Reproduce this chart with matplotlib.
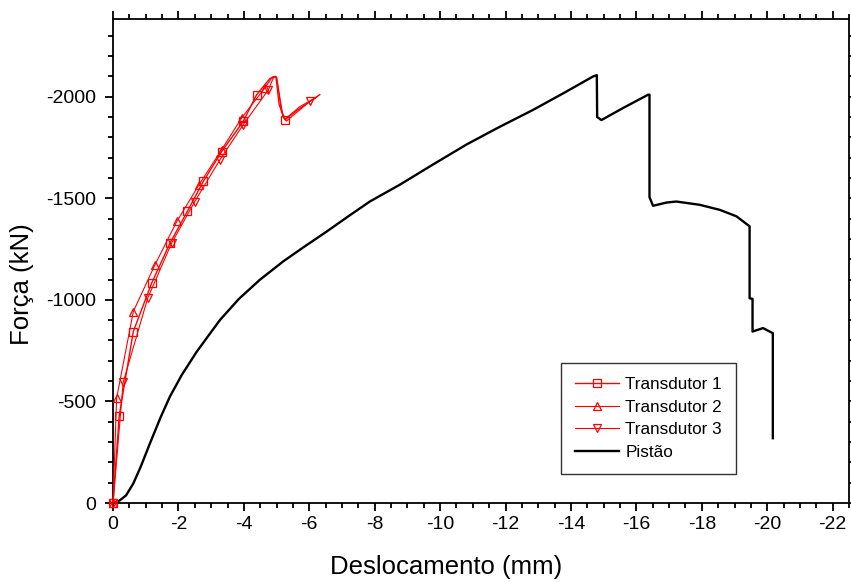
import matplotlib
matplotlib.use("Agg")
import matplotlib.pyplot as plt
from matplotlib.ticker import MultipleLocator

plt.rcParams['font.family'] = ['Liberation Sans', 'DejaVu Sans']
plt.rcParams['axes.unicode_minus'] = False

# Transdutor 1 (square markers)
t1_x = [0, -0.19, -0.62, -1.18, -1.74, -2.27, -2.76, -3.32, -3.98, -4.39,
        -4.80, -4.98, -5.08, -5.26, -5.65, -6.00, -6.32]
t1_y = [0, -430, -844, -1082, -1279, -1435, -1583, -1730, -1878, -2010,
        -2090, -2100, -1960, -1887, -1935, -1975, -2010]
t1_marks = [0, 1, 2, 3, 4, 5, 6, 7, 8, 9, 13]

# Transdutor 2 (up-triangle markers)
t2_x = [0, -0.11, -0.62, -1.28, -1.95, -2.63, -3.32, -3.93, -4.64,
        -4.88, -5.00, -5.15, -5.25, -5.70, -6.25]
t2_y = [0, -516, -942, -1172, -1386, -1567, -1739, -1895, -2043,
        -2098, -2096, -1925, -1888, -1950, -2000]
t2_marks = [0, 1, 2, 3, 4, 5, 6, 7, 8]

# Transdutor 3 (down-triangle markers)
t3_x = [0, -0.31, -1.06, -1.79, -2.50, -3.27, -3.98, -4.75,
        -4.92, -5.00, -5.20, -5.30, -6.02, -6.20]
t3_y = [0, -594, -1008, -1279, -1484, -1690, -1862, -2034,
        -2100, -2095, -1900, -1880, -1977, -1995]
t3_marks = [0, 1, 2, 3, 4, 5, 6, 7, 12]

# Pistão
p_x = [0, -0.20, -0.40, -0.62, -0.85, -1.13, -1.45, -1.74, -2.10, -2.56,
       -2.90, -3.27, -3.85, -4.49, -5.20, -5.85, -6.53, -7.20, -7.85,
       -8.77, -9.80, -10.81, -11.80, -12.84, -13.80, -14.68,
       -14.79, -14.80, -14.93, -15.60, -16.36, -16.40, -16.40, -16.51,
       -16.92, -17.22, -17.93, -18.55, -19.06, -19.46, -19.46, -19.55,
       -19.55, -19.87, -20.17, -20.17]
p_y = [0, -12, -38, -96, -180, -294, -420, -524, -630, -745,
       -820, -901, -1005, -1099, -1189, -1262, -1336, -1412, -1484,
       -1567, -1668, -1765, -1850, -1935, -2020, -2100,
       -2106, -1900, -1885, -1945, -2010, -2010, -1505, -1463,
       -1479, -1484, -1468, -1443, -1411, -1362, -1008, -1005,
       -844, -861, -836, -319]

fig = plt.figure(figsize=(8.51, 5.82), dpi=100)
ax = fig.add_axes([0.1328, 0.1357, 0.8649, 0.8308])

red = '#ff0000'
common = dict(color=red, markerfacecolor='none', markeredgecolor=red,
              markersize=5.5, markeredgewidth=0.9, clip_on=False, zorder=3)
ax.plot(t1_x, t1_y, marker='s', lw=1.0, markevery=t1_marks,
        label='Transdutor 1', **common)
ax.plot(t2_x, t2_y, marker='^', lw=0.8, markevery=t2_marks,
        label='Transdutor 2', **common)
ax.plot(t3_x, t3_y, marker='v', lw=0.8, markevery=t3_marks,
        label='Transdutor 3', **common)
ax.plot(p_x, p_y, color='black', lw=1.7, label='Pistão', zorder=2)

ax.set_xlim(0, -22.5)
ax.set_ylim(0, -2380)

ax.xaxis.set_major_locator(MultipleLocator(2))
ax.xaxis.set_minor_locator(MultipleLocator(0.5))
ax.yaxis.set_major_locator(MultipleLocator(500))
ax.yaxis.set_minor_locator(MultipleLocator(100))

ax.tick_params(which='both', direction='out', top=True, right=True,
               labeltop=False, labelright=False, width=1.3)
ax.tick_params(which='major', length=6, labelsize=14)
ax.tick_params(axis='x', which='major', pad=3)
ax.tick_params(axis='y', which='major', pad=6)
ax.tick_params(which='minor', length=3.5)
for s in ax.spines.values():
    s.set_linewidth(1.3)

ax.set_xlabel('Deslocamento (mm)', fontsize=18.5, va='center')
ax.xaxis.set_label_coords(0.4525, -0.132)
ax.set_ylabel('Força (kN)', fontsize=18.5, va='center')
ax.yaxis.set_label_coords(-0.124, 0.453)

leg = ax.legend(loc='center', bbox_to_anchor=(0.7276, 0.1748), fontsize=12.3,
                handlelength=2.6, handletextpad=0.35, labelspacing=0.46,
                borderpad=0.8, fancybox=False, framealpha=1)
leg.get_frame().set_edgecolor('#333333')
leg.get_frame().set_linewidth(1.0)

fig.savefig('out.png', dpi=100)
